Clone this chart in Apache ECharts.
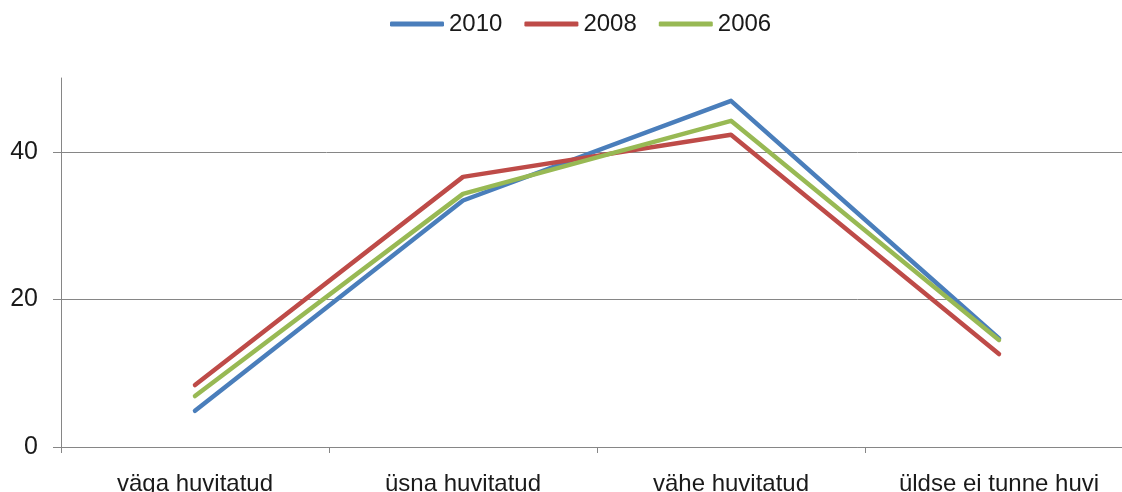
<!DOCTYPE html>
<html>
<head>
<meta charset="utf-8">
<script src="https://cdn.jsdelivr.net/npm/echarts@6/dist/echarts.min.js"></script>
<style>
  html, body { margin: 0; padding: 0; background: #fff; }
  #chart { width: 1122px; height: 492px; }
</style>
</head>
<body>
<div id="chart"></div>
<script>
const categories = ["väga huvitatud", "üsna huvitatud", "vähe huvitatud", "üldse ei tunne huvi"];
const years = ["2010", "2008", "2006"];
const values2010 = [4.9, 33.4, 46.9, 14.7];
const values2008 = [8.4, 36.6, 42.3, 12.6];
const values2006 = [6.9, 34.3, 44.2, 14.5];
const yTicks = [0, 20, 40];

const colors = ["#4a7ebb", "#be4b48", "#98b954"];
const axisGray = "#868686";
const font = "Liberation Sans";

const chart = echarts.init(document.getElementById("chart"));

function line(name, data) {
  return {
    name: name,
    type: "line",
    data: data,
    symbol: "none",
    lineStyle: { width: 4.5, cap: "round", join: "round" },
  };
}

chart.setOption({
  color: colors,
  animation: false,
  textStyle: { fontFamily: font },
  legend: {
    top: 7,
    left: 385,
    icon: "roundRect",
    itemWidth: 54,
    itemHeight: 5,
    itemGap: 22,
    textStyle: { fontSize: 24, color: "#1a1a1a", fontFamily: font },
    data: years,
  },
  grid: {
    left: 61,
    right: -11,
    top: 78,
    bottom: 45,
    outerBoundsMode: "none",
  },
  xAxis: {
    type: "category",
    data: categories,
    boundaryGap: true,
    axisLine: { lineStyle: { color: axisGray, width: 1 } },
    axisTick: { show: true, length: 6, lineStyle: { color: axisGray } },
    axisLabel: { color: "#1a1a1a", fontSize: 24, margin: 25, fontFamily: font },
  },
  yAxis: {
    type: "value",
    min: 0,
    max: 50,
    interval: 20,
    axisLine: { show: true, lineStyle: { color: axisGray, width: 1 } },
    axisTick: { show: true, length: 8, lineStyle: { color: axisGray }, customValues: yTicks },
    axisLabel: { color: "#1a1a1a", fontSize: 25, margin: 23, fontFamily: font, customValues: yTicks },
    splitLine: {
      show: true,
      lineStyle: { color: [axisGray, axisGray, axisGray, "rgba(0,0,0,0)"], width: 1 },
    },
  },
  series: [
    line(years[0], values2010),
    line(years[1], values2008),
    line(years[2], values2006),
  ],
});
</script>
</body>
</html>
